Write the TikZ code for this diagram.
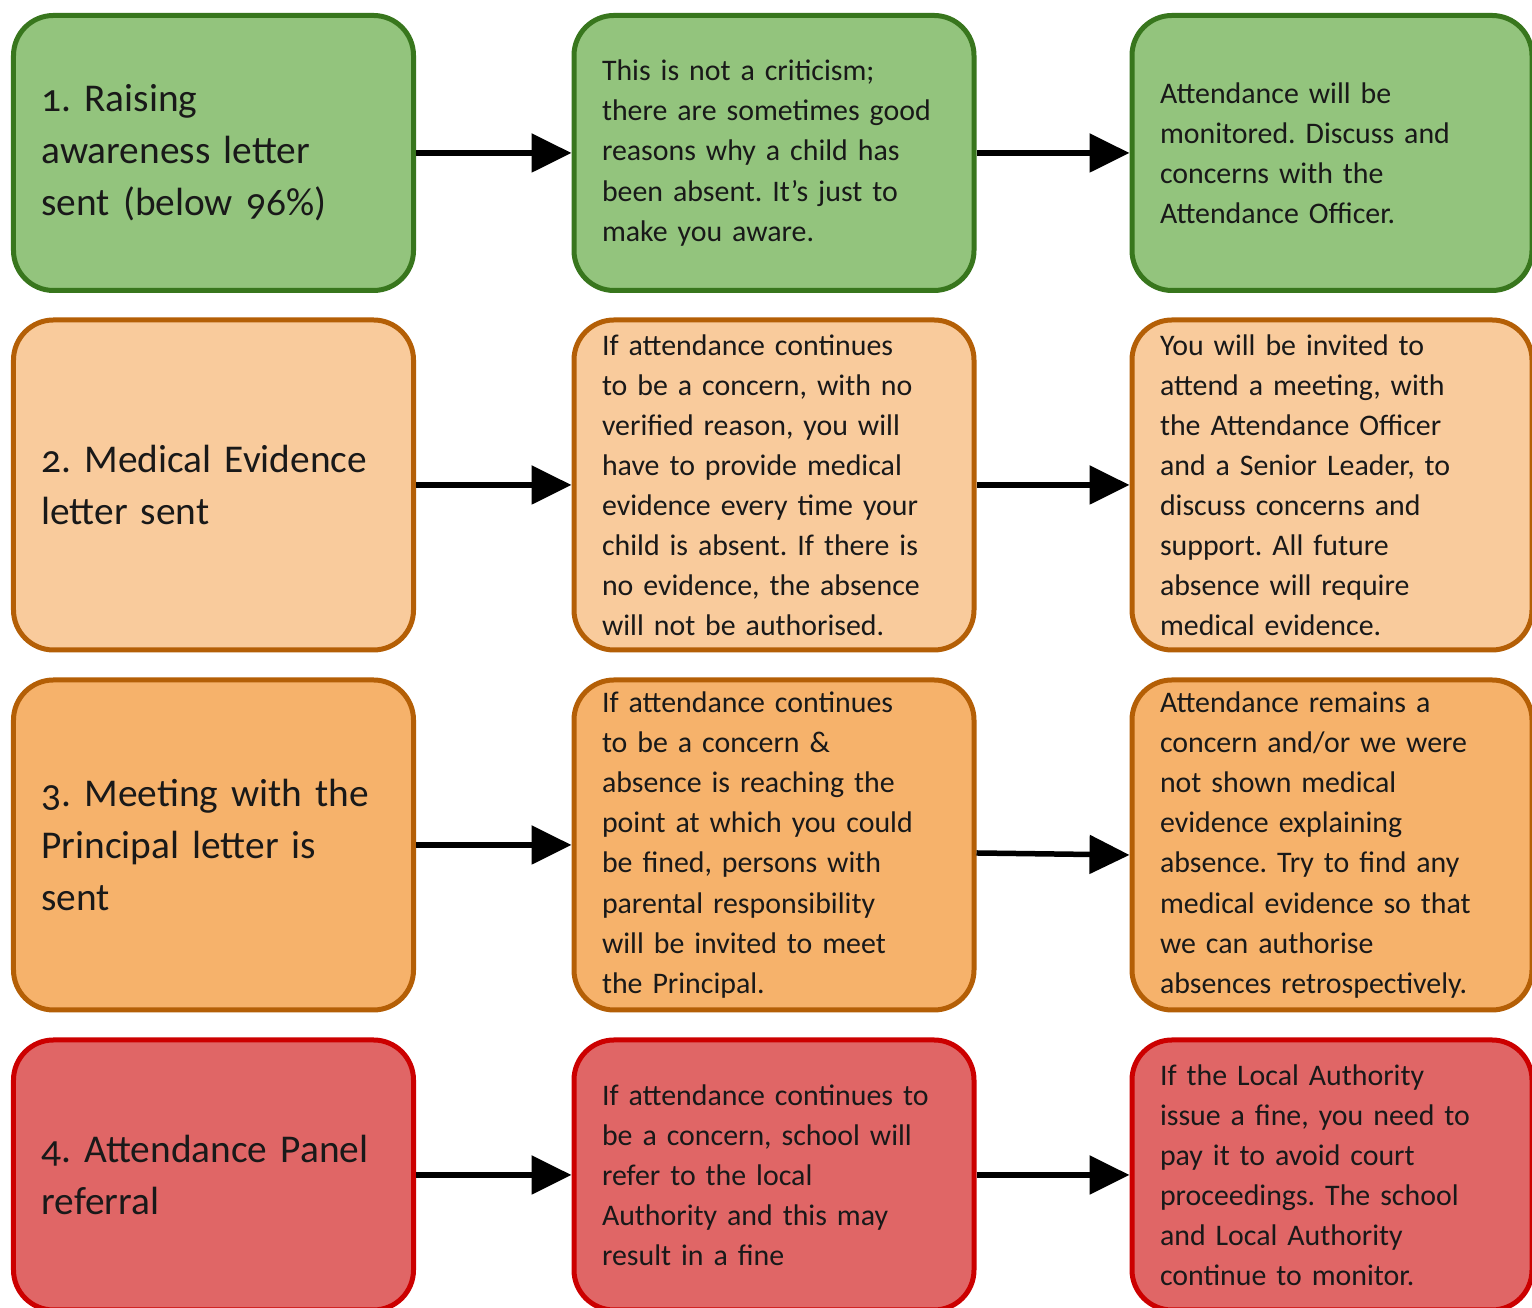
\documentclass[tikz,border=0pt]{standalone}
\usepackage{fontspec}
\setmainfont{Carlito}
\usetikzlibrary{arrows.meta}

\definecolor{stepgreen}{HTML}{93C47D}
\definecolor{stepgreenline}{HTML}{38761D}
\definecolor{steppeach}{HTML}{F9CB9C}
\definecolor{steporange}{HTML}{F6B26B}
\definecolor{steporangeline}{HTML}{B45F06}
\definecolor{stepred}{HTML}{E06666}
\definecolor{stepredline}{HTML}{CC0000}

\tikzset{
  stage/.style={draw, rounded corners=0.4cm, line width=0.05cm, minimum width=4cm,
    text width=3.44cm, inner xsep=0.28cm, align=left, text=black!90,
    font=\fontsize{8.5}{11.4}\selectfont\frenchspacing},
  heading/.style={font=\fontsize{11.2}{14.8}\selectfont\frenchspacing\addfontfeatures{Numbers=OldStyle}},
  greenbox/.style={stage, fill=stepgreen, draw=stepgreenline, minimum height=2.75cm},
  peachbox/.style={stage, fill=steppeach, draw=steporangeline, minimum height=3.3cm},
  orangebox/.style={stage, fill=steporange, draw=steporangeline, minimum height=3.3cm},
  redbox/.style={stage, fill=stepred, draw=stepredline, minimum height=2.7cm},
  flow/.style={line width=0.055cm, -{Triangle[length=0.4cm,width=0.38cm]}}
}

\begin{document}
\begin{tikzpicture}

\useasboundingbox[fill=white] (0,0) rectangle (15.32,13.08);

% row 1
\node[greenbox, heading] (g1) at (2.135,11.55) {1. Raising\\ awareness letter\\ sent (below 96\%)};
\node[greenbox] (g2) at (7.74,11.55) {This is not a criticism;\\ there are sometimes good\\ reasons why a child has\\ been absent. It’s just to\\ make you aware.};
\node[greenbox] (g3) at (13.32,11.55) {Attendance will be\\ monitored. Discuss and\\ concerns with the\\ Attendance Officer.};

% row 2
\node[peachbox, heading] (p1) at (2.135,8.23) {2. Medical Evidence\\ letter sent};
\node[peachbox] (p2) at (7.74,8.23) {If attendance continues\\ to be a concern, with no\\ verified reason, you will\\ have to provide medical\\ evidence every time your\\ child is absent. If there is\\ no evidence, the absence\\ will not be authorised.};
\node[peachbox] (p3) at (13.32,8.23) {You will be invited to\\ attend a meeting, with\\ the Attendance Officer\\ and a Senior Leader, to\\ discuss concerns and\\ support. All future\\ absence will require\\ medical evidence.};

% row 3
\node[orangebox, heading] (o1) at (2.135,4.63) {3. Meeting with the\\ Principal letter is\\ sent};
\node[orangebox] (o2) at (7.74,4.63) {If attendance continues\\ to be a concern \&\\ absence is reaching the\\ point at which you could\\ be fined, persons with\\ parental responsibility\\ will be invited to meet\\ the Principal.};
\node[orangebox] (o3) at (13.32,4.63) {Attendance remains a\\ concern and/or we were\\ not shown medical\\ evidence explaining\\ absence. Try to find any\\ medical evidence so that\\ we can authorise\\ absences retrospectively.};

% row 4
\node[redbox, heading] (r1) at (2.135,1.33) {4. Attendance Panel\\ referral};
\node[redbox] (r2) at (7.74,1.33) {If attendance continues to\\ be a concern, school will\\ refer to the local\\ Authority and this may\\ result in a fine};
\node[redbox] (r3) at (13.32,1.33) {If the Local Authority\\ issue a fine, you need to\\ pay it to avoid court\\ proceedings. The school\\ and Local Authority\\ continue to monitor.};

\draw[flow] (g1) -- (g2);
\draw[flow] (g2) -- (g3);
\draw[flow] (p1) -- (p2);
\draw[flow] (p2) -- (p3);
\draw[flow] (o1) -- (o2);
\draw[flow] ([yshift=-0.08cm]o2.east) -- ([yshift=-0.1cm]o3.west);
\draw[flow] (r1) -- (r2);
\draw[flow] (r2) -- (r3);

\end{tikzpicture}
\end{document}
